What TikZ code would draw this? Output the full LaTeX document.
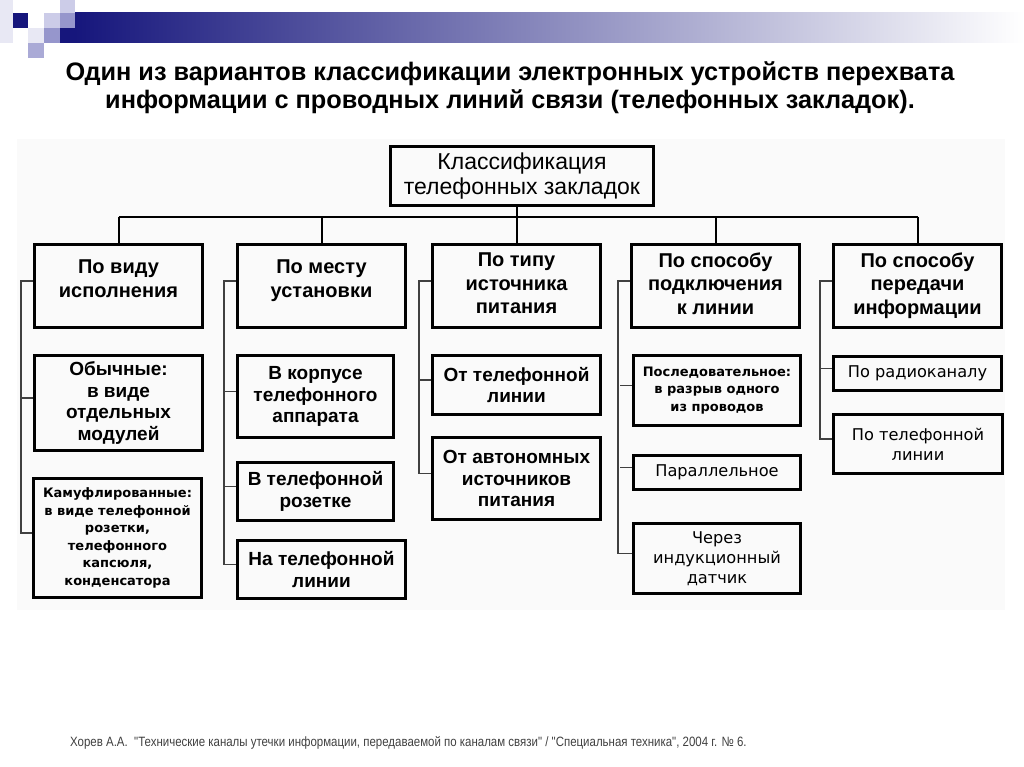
\documentclass[tikz,border=0pt]{standalone}
\usepackage{fontspec}
\setmainfont{Liberation Sans}
\newfontfamily\anchafont{DejaVu Sans}
\newfontfamily\estrechafont[FakeStretch=0.85]{Liberation Sans}
\definecolor{azul}{RGB}{22,22,124}
\definecolor{lilaA}{RGB}{232,232,244}
\definecolor{lilaB}{RGB}{204,204,232}
\definecolor{lilaC}{RGB}{150,150,204}
\definecolor{lilaD}{RGB}{170,170,214}
\definecolor{lilaM}{RGB}{140,140,186}

\begin{document}
\begin{tikzpicture}[x=1pt,y=-1pt,
  caja/.style={draw, line width=3pt, align=center, inner sep=0pt},
  cabeza/.style={caja, minimum width=168pt, minimum height=83pt, font=\fontsize{20}{23.5}\selectfont\bfseries},
  negrita/.style={caja, font=\fontsize{19}{21.5}\selectfont\bfseries},
  chica/.style={caja, font=\anchafont\bfseries\fontsize{13}{17.5}\selectfont},
  fina/.style={caja, font=\anchafont\fontsize{16.2}{20}\selectfont},
  rama/.style={line width=2pt},
  llave/.style={line width=1.2pt, black!75}]
  \useasboundingbox (0,0) rectangle (1024,767);

  % Banda superior
  \fill[lilaA] (0,0) rectangle (13,43);
  \fill[lilaB] (60,0) rectangle (75,13);
  \fill[azul] (13,13) rectangle (28,28);
  \fill[lilaB] (44,13) rectangle (60,28);
  \fill[lilaC] (60,13) rectangle (75,28);
  \fill[lilaA] (28,28) rectangle (44,43);
  \fill[lilaC] (44,28) rectangle (60,43);
  \fill[azul] (60,28) rectangle (75,43);
  \fill[lilaD] (28,43) rectangle (44,58);
  \shade[left color=azul, middle color=lilaM, right color=white] (75,13) rectangle (1024,43);

  % Fondo
  \fill[black!2] (17,139) rectangle (1005,610);

  % Título
  \node[font=\fontsize{25.3}{28}\selectfont\bfseries, align=center] (titulo) at (510,88)
    {Один из вариантов классификации электронных устройств перехвата\\информации с проводных линий связи (телефонных закладок).};

  % Caja principal
  \node[caja, minimum width=263pt, minimum height=59pt, font=\fontsize{23}{25}\selectfont] (raiz) at (522,176)
    {Классификация\\телефонных закладок};

  % Encabezados
  \foreach \n/\x/\p/\t in {h1/118.5/15pt/{По виду\\исполнения}, h2/321.5/15pt/{По месту\\установки},
      h3/516.5/5pt/{По типу\\источника\\питания}, h4/715.5/5pt/{По способу\\подключения\\к линии},
      h5/917.5/5pt/{По способу\\передачи\\информации}}
    \node[cabeza, text depth=\p] (\n) at (\x,286) {\t};

  % Subclases
  \node[negrita, minimum width=168pt, minimum height=95pt] (a1) at (118.5,403) {Обычные:\\в виде\\отдельных\\модулей};
  \node[chica, minimum width=168pt, minimum height=119pt] (a2) at (117.5,538)
    {Камуфлированные:\\в виде телефонной\\розетки,\\телефонного\\капсюля,\\конденсатора};
  \node[negrita, minimum width=156pt, minimum height=82pt] (b1) at (315.5,396.5) {В корпусе\\телефонного\\аппарата};
  \node[negrita, minimum width=156pt, minimum height=58pt] (b2) at (315.5,491.5) {В телефонной\\розетке};
  \node[negrita, minimum width=168pt, minimum height=58pt] (b3) at (321.5,569.5) {На телефонной\\линии};
  \node[negrita, minimum width=168pt, minimum height=59pt] (c1) at (516.5,385) {От телефонной\\линии};
  \node[negrita, minimum width=168pt, minimum height=82pt] (c2) at (516.5,478.5) {От автономных\\источников\\питания};
  \node[chica, minimum width=167pt, minimum height=70pt] (d1) at (717,390.5) {Последовательное:\\в разрыв одного\\из проводов};
  \node[fina, minimum width=167pt, minimum height=34pt] (d2) at (717,472.5) {Параллельное};
  \node[fina, minimum width=167pt, minimum height=70pt] (d3) at (717,558.5) {Через\\индукционный\\датчик};
  \node[fina, minimum width=168pt, minimum height=34pt] (e1) at (917.5,373.5) {По радиоканалу};
  \node[fina, minimum width=169pt, minimum height=59pt] (e2) at (918,444) {По телефонной\\линии};

  % Ramas
  \coordinate (bus) at (0,217);
  \draw[rama] (h1.north |- bus) -- (h5.north |- bus);
  \draw[rama] (raiz.south -| h3.north) -- (h3.north);
  \foreach \n in {h1,h2,h4,h5}
    \draw[rama] (\n.north |- bus) -- (\n.north);

  % Llaves laterales
  \foreach \hd/\ult in {h1/a2, h2/b3, h3/c2, h4/d3, h5/e2}
    \draw[llave] ([yshift=5pt]\hd.west) -- ++(-12,0) |- ([yshift=5pt]\ult.west);
  \foreach \n in {a1,b1,b2,c1,d1,d2,e1}
    \draw[llave] ([yshift=5pt]\n.west) -- ++(-12,0);

  % Fuente
  \node[anchor=west, inner sep=0pt, font=\estrechafont\fontsize{13.5}{15}\selectfont, text=black!75] (fuente) at (70,743)
    {Хорев А.А.~~"Технические каналы утечки информации, передаваемой по каналам связи" / "Специальная техника", 2004 г. №~6.};
\end{tikzpicture}
\end{document}
